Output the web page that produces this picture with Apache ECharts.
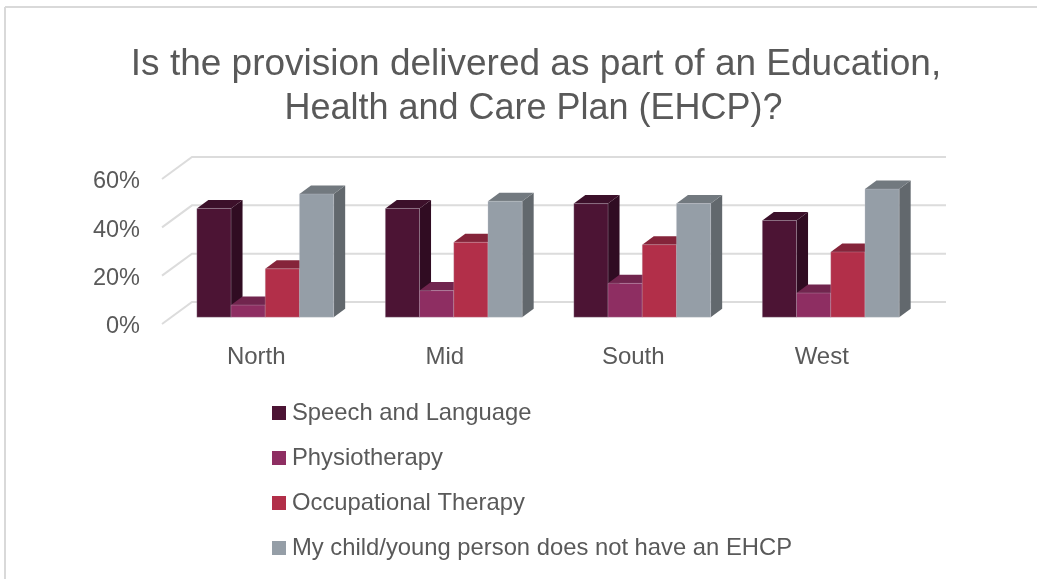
<!DOCTYPE html>
<html><head><meta charset="utf-8">
<style>html,body{margin:0;padding:0;background:#fff}#c{width:1037px;height:579px}</style>
<script src="https://cdn.jsdelivr.net/npm/echarts@6/dist/echarts.min.js"></script>
</head><body><div id="c"></div>
<script>
const titleLine1 = 'Is the provision delivered as part of an Education,';
const titleLine2 = 'Health and Care Plan (EHCP)?';
const categories = ['North', 'Mid', 'South', 'West'];
const speech = [45, 45, 47, 40];
const physio = [5, 11, 14, 10];
const occupational = [20, 31, 30, 27];
const noEhcp = [51, 48, 47, 53];
const seriesNames = ['Speech and Language', 'Physiotherapy', 'Occupational Therapy', 'My child/young person does not have an EHCP'];
const seriesValues = [speech, physio, occupational, noEhcp];
const axisTicks = [0, 20, 40, 60];
const palette = [
  {front: '#4c1434', side: '#300c22', top: '#3c102a'},
  {front: '#8e2e62', side: '#5f1f42', top: '#71254e'},
  {front: '#b22f49', side: '#7a2032', top: '#85243a'},
  {front: '#959ea7', side: '#62686d', top: '#72797f'}
];
const FONT = '"Liberation Sans", Arial, sans-serif';
const TXT = '#595959';
const WALL = {dx: 30, dy: -22};
const BAR = {dx: 11.5, dy: -8.5, shiftX: 9, shiftY: -6.8, frac: 0.1815};

function barRender(si) {
  return function (params, api) {
    const c = api.coord([api.value(0), api.value(1)]);
    const base = api.coord([api.value(0), 0]);
    const w = api.size([1, 0])[0] * BAR.frac;
    const x0 = c[0] + BAR.shiftX - 2 * w + si * w;
    const x1 = x0 + w;
    const yt = c[1] + BAR.shiftY;
    const yb = base[1] + BAR.shiftY;
    const p = palette[si];
    return {type: 'group', children: [
      {type: 'polygon', shape: {points: [[x1, yt], [x1 + BAR.dx, yt + BAR.dy], [x1 + BAR.dx, yb + BAR.dy], [x1, yb]]}, style: {fill: p.side}},
      {type: 'polygon', shape: {points: [[x0, yt], [x0 + BAR.dx, yt + BAR.dy], [x1 + BAR.dx, yt + BAR.dy], [x1, yt]]}, style: {fill: p.top}},
      {type: 'rect', shape: {x: x0, y: yt, width: w, height: yb - yt}, style: {fill: p.front, stroke: 'rgba(205,205,215,0.45)', lineWidth: 0.6}}
    ]};
  };
}
function wallRender(params, api) {
  const cs = params.coordSys;
  const y = api.coord([0, api.value(0)])[1];
  const st = {stroke: '#dcdcdc', lineWidth: 2, fill: 'none'};
  return {type: 'group', children: [
    {type: 'polyline', shape: {points: [[cs.x, y], [cs.x + WALL.dx, y + WALL.dy], [cs.x + cs.width + WALL.dx, y + WALL.dy]]}, style: st}
  ]};
}
const series = [{
  type: 'custom', name: 'wall', renderItem: wallRender, silent: true,
  data: axisTicks.map(v => [v]), encode: {y: 0}, z: 1, clip: false
}].concat(seriesNames.map((n, si) => ({
  type: 'custom', name: n, renderItem: barRender(si), clip: false, z: 2,
  itemStyle: {color: palette[si].front},
  data: seriesValues[si].map((v, i) => [i, v]), encode: {x: 0, y: 1}
})));
const chart = echarts.init(document.getElementById('c'), null, {renderer: 'canvas'});
chart.setOption({
  animation: false,
  backgroundColor: '#fff',
  textStyle: {fontFamily: FONT},
  title: [
    {text: titleLine1, left: 531, top: 38, textAlign: 'center',
      textStyle: {fontFamily: FONT, fontSize: 37, fontWeight: 'normal', color: TXT, lineHeight: 44}},
    {text: titleLine2, left: 528.5, top: 82, textAlign: 'center',
      textStyle: {fontFamily: FONT, fontSize: 36, fontWeight: 'normal', color: TXT, lineHeight: 44}}
  ],
  grid: {left: 162, top: 179, width: 754, height: 145, containLabel: false},
  xAxis: {type: 'category', data: categories, axisLine: {show: false}, axisTick: {show: false},
    axisLabel: {color: TXT, fontSize: 24, fontFamily: FONT, margin: 21}},
  yAxis: {type: 'value', min: 0, max: 60, interval: 20, axisLine: {show: false}, axisTick: {show: false},
    splitLine: {show: false}, axisLabel: {color: TXT, fontSize: 23.5, fontFamily: FONT, margin: 22, verticalAlign: 'top', lineHeight: 5.5, formatter: '{value}%'}},
  legend: {orient: 'vertical', left: 272, top: 401, itemWidth: 14, itemHeight: 14, itemGap: 21, icon: 'rect',
    data: seriesNames, textStyle: {color: TXT, fontSize: 23.8, lineHeight: 24, fontFamily: FONT, padding: [0, 0, 0, 1]}, padding: 0},
  graphic: [
    {type: 'line', shape: {x1: 5, y1: 7, x2: 5, y2: 579}, style: {stroke: '#d9d9d9', lineWidth: 2}, silent: true},
    {type: 'line', shape: {x1: 5, y1: 7, x2: 1037, y2: 7}, style: {stroke: '#d9d9d9', lineWidth: 2}, silent: true}
  ],
  series: series
});
</script></body></html>
